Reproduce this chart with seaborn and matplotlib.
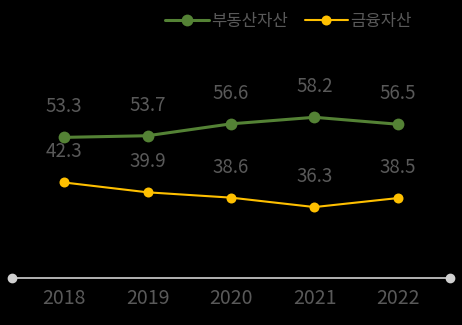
import matplotlib
matplotlib.use("Agg")
import matplotlib.pyplot as plt
import seaborn as sns
import pandas as pd
from matplotlib.lines import Line2D

years = ["2018", "2019", "2020", "2021", "2022"]
real_estate = [53.3, 53.7, 56.6, 58.2, 56.5]
financial = [42.3, 39.9, 38.6, 36.3, 38.5]
series_names = ["부동산자산", "금융자산"]
colors = ["#548235", "#FFC000"]

sns.set_theme(style="white")
plt.rcParams["font.family"] = ["Noto Sans CJK KR", "DejaVu Sans"]

df = pd.DataFrame({
    "year": years * 2,
    "pos": list(range(len(years))) * 2,
    "value": real_estate + financial,
    "series": [series_names[0]] * len(years) + [series_names[1]] * len(years),
})

fig = plt.figure(figsize=(4.62, 3.25), dpi=100, facecolor="black")
ax = fig.add_axes([12 / 462, 47 / 325, 438 / 462, 278 / 325])
ax.set_facecolor("black")

styles = {series_names[0]: dict(lw=2.2, ms=8.5), series_names[1]: dict(lw=1.5, ms=7.2)}
for name, col in zip(series_names, colors):
    sub = df[df["series"] == name]
    sns.lineplot(data=sub, x="pos", y="value", ax=ax, color=col,
                 linewidth=styles[name]["lw"], marker="o",
                 markersize=styles[name]["ms"], markeredgewidth=0,
                 legend=False)
    for x, v in zip(sub["pos"], sub["value"]):
        ax.annotate(f"{v:.1f}", (x, v), xytext=(0, 22), textcoords="offset points",
                    ha="center", va="center", fontsize=13.5, color="#595959")

ax.set_xlim(-0.623, 4.623)
ax.set_ylim(19, 19 + 278 / 4.1)
for s in ax.spines.values():
    s.set_visible(False)
ax.set_yticks([])
ax.set_xticks(range(len(years)))
ax.set_xticklabels(years)
ax.tick_params(axis="x", length=0, pad=7, labelsize=14, labelcolor="#595959")
ax.set_xlabel("")
ax.set_ylabel("")

# baseline with round end caps
ax.plot([-0.623, 4.623], [19, 19], color="#d0d0d0", lw=1.2, clip_on=False, zorder=1)
ax.plot([-0.623, 4.623], [19, 19], linestyle="none", marker="o", ms=6,
        color="#d0d0d0", clip_on=False, zorder=2)

handles = [Line2D([0], [0], color=colors[0], lw=2.2, marker="o", ms=8.5, markeredgewidth=0),
           Line2D([0], [0], color=colors[1], lw=1.5, marker="o", ms=7.2, markeredgewidth=0)]
fig.legend(handles, series_names, loc="center right", bbox_to_anchor=(427 / 462, 1 - 21.5 / 325),
           ncol=2, frameon=False, fontsize=12, labelcolor="#595959",
           handlelength=2.6, handletextpad=0.15, columnspacing=1.0)

fig.savefig("out.png", dpi=100, facecolor="black")
